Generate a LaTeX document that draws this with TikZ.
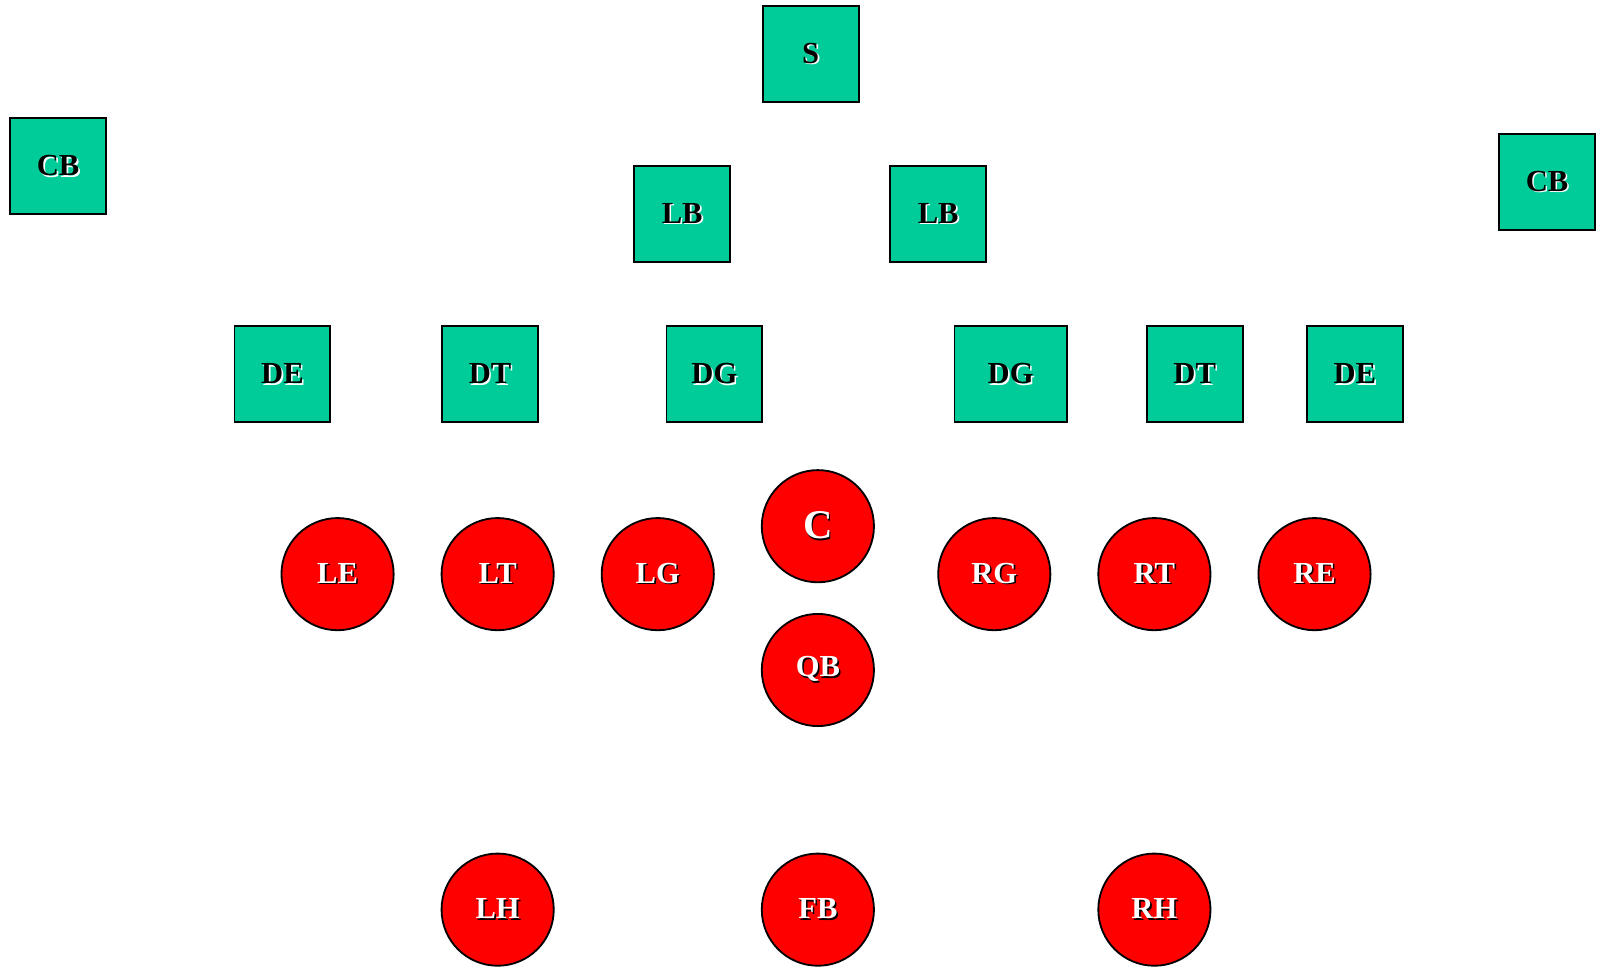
\documentclass[tikz,border=0pt]{standalone}
\usepackage{fontspec}
\setmainfont{Liberation Serif}
\definecolor{defgreen}{HTML}{00CC99}
\definecolor{offred}{HTML}{FF0000}
\newcommand\shtxt[3]{\rlap{\hspace{1.6pt}\raisebox{-1.6pt}{\textcolor{#2}{#3}}}\textcolor{#1}{#3}}
\begin{document}
\begin{tikzpicture}[x=1pt,y=-1pt,
  defbox/.style={draw=black,line width=1.8pt,fill=defgreen,minimum width=94pt,minimum height=94pt,inner sep=0pt,font=\fontsize{30}{30}\bfseries\selectfont},
  offcirc/.style={circle,draw=black,line width=1.8pt,fill=offred,minimum size=110pt,inner sep=0pt,font=\fontsize{30}{30}\bfseries\selectfont}]
\useasboundingbox (0,0) rectangle (1567,947.5);
% defense
\node[defbox] (s) at (795,53) {\shtxt{black}{white}{S}};
\node[defbox] (cbl) at (57,163) {\shtxt{black}{white}{CB}};
\node[defbox] (cbr) at (1517,178.5) {\shtxt{black}{white}{CB}};
\node[defbox] (lbl) at (669,210) {\shtxt{black}{white}{LB}};
\node[defbox] (lbr) at (920,210) {\shtxt{black}{white}{LB}};
\node[defbox] (del) at (277,367) {\shtxt{black}{white}{DE}};
\node[defbox] (dtl) at (480.5,367) {\shtxt{black}{white}{DT}};
\node[defbox] (dgl) at (700.5,367) {\shtxt{black}{white}{DG}};
\node[defbox,minimum width=110pt] (dgr) at (991,367) {\shtxt{black}{white}{DG}};
\node[defbox] (dtr) at (1171.5,367) {\shtxt{black}{white}{DT}};
\node[defbox] (der) at (1328.5,367) {\shtxt{black}{white}{DE}};
% offense
\node[offcirc] (le) at (331,563) {\shtxt{white}{black}{LE}};
\node[offcirc] (lt) at (488,563) {\shtxt{white}{black}{LT}};
\node[offcirc] (lg) at (645,563) {\shtxt{white}{black}{LG}};
\node[offcirc,font=\fontsize{40}{40}\bfseries\selectfont] (c) at (802,516) {\shtxt{white}{black}{C}};
\node[offcirc] (rg) at (975,563) {\shtxt{white}{black}{RG}};
\node[offcirc] (rt) at (1132,563) {\shtxt{white}{black}{RT}};
\node[offcirc] (re) at (1289,563) {\shtxt{white}{black}{RE}};
\node[offcirc] (qb) at (802,657) {\shtxt{white}{black}{QB}};
\node[offcirc] (lh) at (488,892) {\shtxt{white}{black}{LH}};
\node[offcirc] (fb) at (802,892) {\shtxt{white}{black}{FB}};
\node[offcirc] (rh) at (1132,892) {\shtxt{white}{black}{RH}};
\end{tikzpicture}
\end{document}
